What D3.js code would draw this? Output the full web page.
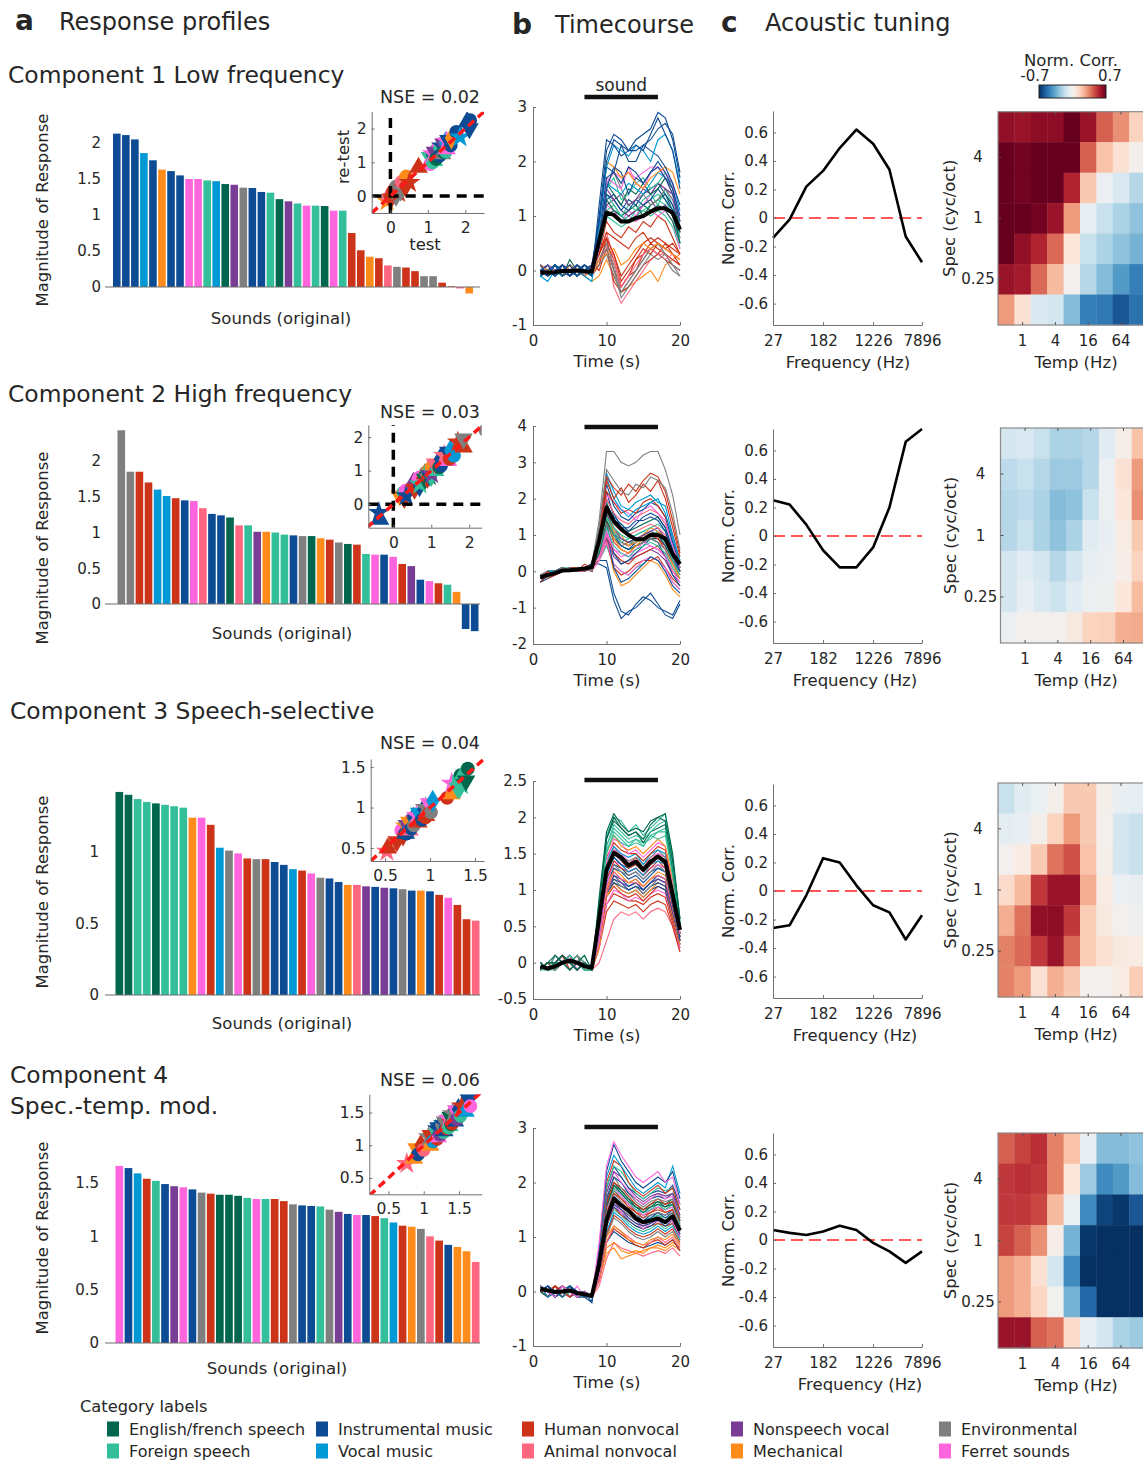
<!DOCTYPE html>
<html>
<head>
<meta charset="utf-8">
<script src="https://cdn.jsdelivr.net/npm/d3@7"></script>
<style>
html, body { margin: 0; padding: 0; background: #fff; }
svg { display: block; font-family: "DejaVu Sans", sans-serif; }
</style>
</head>
<body>
<svg id="fig" width="1143" height="1461"></svg>
<script>
// ---------- categories ----------
const categoryKeys = ["eng", "for", "ins", "voc", "hum", "ani", "nsv", "mec", "env", "fer"];
const categoryNames = ["English/french speech", "Foreign speech", "Instrumental music", "Vocal music",
  "Human nonvocal", "Animal nonvocal", "Nonspeech vocal", "Mechanical", "Environmental", "Ferret sounds"];
const categoryColors = ["#00664d", "#33bf99", "#0d4c94", "#0099d6", "#cc3319", "#ff6680", "#7a3d96", "#ff8c1a", "#7f7f7f", "#ff66dd"];

// ---------- response profiles (sorted bars) ----------
const comp1Values = [2.13, 2.11, 2.05, 1.86, 1.76, 1.63, 1.61, 1.55, 1.50, 1.50, 1.48, 1.47, 1.43, 1.42, 1.38, 1.375, 1.32, 1.31, 1.22, 1.19,
  1.16, 1.13, 1.13, 1.125, 1.06, 1.06, 0.75, 0.51, 0.42, 0.40, 0.30, 0.28, 0.27, 0.22, 0.15, 0.15, 0.06, 0.01, -0.02, -0.09];
const comp1Cats = ["ins", "ins", "ins", "voc", "ins", "mec", "ins", "ins", "fer", "fer", "for", "voc", "eng", "nsv", "env", "ins", "ins", "for", "eng", "nsv",
  "for", "fer", "for", "eng", "fer", "for", "hum", "hum", "mec", "hum", "ani", "env", "hum", "hum", "env", "env", "hum", "hum", "ani", "mec"];

const comp2Values = [2.43, 1.85, 1.85, 1.70, 1.60, 1.51, 1.48, 1.45, 1.44, 1.34, 1.26, 1.24, 1.21, 1.10, 1.10, 1.01, 1.01, 1.00, 0.97, 0.96,
  0.95, 0.95, 0.92, 0.90, 0.86, 0.84, 0.83, 0.70, 0.69, 0.69, 0.66, 0.56, 0.53, 0.34, 0.32, 0.29, 0.27, 0.17, -0.35, -0.38];
const comp2Cats = ["env", "env", "hum", "hum", "voc", "voc", "hum", "ins", "fer", "ani", "ins", "ins", "eng", "ani", "for", "nsv", "mec", "for", "for", "ins",
  "env", "eng", "mec", "hum", "env", "eng", "hum", "for", "fer", "ins", "fer", "hum", "nsv", "ins", "fer", "hum", "for", "mec", "ins", "ins"];

const comp3Values = [1.42, 1.40, 1.37, 1.35, 1.34, 1.33, 1.32, 1.31, 1.24, 1.24, 1.19, 1.03, 1.01, 0.99, 0.955, 0.95, 0.95, 0.93, 0.91, 0.88,
  0.87, 0.85, 0.82, 0.815, 0.79, 0.77, 0.77, 0.76, 0.756, 0.75, 0.746, 0.74, 0.73, 0.73, 0.725, 0.70, 0.68, 0.63, 0.53, 0.52];
const comp3Cats = ["eng", "eng", "for", "for", "eng", "for", "for", "for", "mec", "fer", "hum", "voc", "env", "fer", "hum", "env", "hum", "ins", "ins", "voc",
  "hum", "fer", "env", "ins", "ins", "mec", "ani", "nsv", "ins", "nsv", "ins", "env", "ins", "mec", "ins", "hum", "fer", "hum", "hum", "ani"];

const comp4Values = [1.66, 1.64, 1.59, 1.54, 1.52, 1.49, 1.47, 1.46, 1.44, 1.41, 1.40, 1.39, 1.39, 1.38, 1.36, 1.35, 1.35, 1.35, 1.33, 1.30,
  1.29, 1.285, 1.28, 1.25, 1.23, 1.21, 1.20, 1.20, 1.19, 1.17, 1.13, 1.10, 1.09, 1.07, 1.00, 0.96, 0.92, 0.90, 0.86, 0.76];
const comp4Cats = ["fer", "ins", "voc", "hum", "for", "ins", "nsv", "fer", "ins", "env", "hum", "eng", "eng", "eng", "for", "fer", "for", "hum", "hum", "env",
  "ins", "ins", "for", "env", "nsv", "ins", "fer", "ins", "hum", "for", "voc", "hum", "mec", "env", "ani", "hum", "ins", "mec", "mec", "ani"];

// ---------- test / re-test scatter (re-test values per sound) ----------
const comp1Retest = [2.25, 2.0, 2.2, 1.75, 1.9, 1.72, 1.5, 1.65, 1.4, 1.62, 1.32, 1.58, 1.3, 1.55, 1.25, 1.48, 1.2, 1.42, 1.1, 1.3,
  1.05, 1.25, 1.0, 1.22, 0.95, 1.15, 0.85, 0.4, 0.58, 0.3, 0.42, 0.15, 0.35, 0.1, 0.28, 0.02, 0.12, -0.08, 0.05, -0.15];
const comp2Retest = [2.2, 1.95, 1.7, 1.85, 1.45, 1.6, 1.35, 1.55, 1.3, 1.45, 1.15, 1.35, 1.1, 1.2, 1.0, 0.9, 1.1, 0.85, 1.05, 0.85,
  1.05, 0.85, 1.0, 0.8, 0.95, 0.75, 0.9, 0.6, 0.8, 0.55, 0.75, 0.45, 0.65, 0.25, 0.4, 0.2, 0.35, 0.25, -0.45, -0.25];
const comp3Retest = [1.48, 1.33, 1.42, 1.28, 1.4, 1.25, 1.36, 1.24, 1.17, 1.3, 1.12, 1.08, 0.94, 1.05, 0.9, 1.0, 0.88, 0.98, 0.85, 0.93,
  0.82, 0.9, 0.78, 0.87, 0.74, 0.82, 0.72, 0.8, 0.7, 0.79, 0.68, 0.78, 0.68, 0.77, 0.68, 0.66, 0.72, 0.58, 0.5, 0.46];
const comp4Retest = [1.6, 1.7, 1.52, 1.6, 1.45, 1.55, 1.4, 1.53, 1.37, 1.48, 1.33, 1.45, 1.32, 1.43, 1.3, 1.41, 1.27, 1.4, 1.26, 1.36,
  1.22, 1.33, 1.2, 1.31, 1.16, 1.27, 1.13, 1.25, 1.1, 1.23, 1.06, 1.15, 1.0, 1.13, 0.93, 1.0, 0.86, 0.95, 0.8, 0.72];
const nseLabels = ["NSE = 0.02", "NSE = 0.03", "NSE = 0.04", "NSE = 0.06"];

// ---------- timecourses (one row per sound, seconds 1..20) ----------
const timePoints = [1, 2, 3, 4, 5, 6, 7, 8, 9, 10, 11, 12, 13, 14, 15, 16, 17, 18, 19, 20];
const soundOnOff = [7, 17];

const comp1Time = [
  [0,-.1,.1,-.1,0,.1,0,-.1, 1.2,2.4,2.3,2.1,2.2,2.4,2.5,2.6,2.9,2.8,2.4,1.7],
  [-.1,0,-.1,.1,-.1,0,.1,0, 1.0,2.2,2.5,2.4,2.2,2.3,2.2,2.5,2.8,2.5,2.2,1.5],
  [.1,-.1,0,0,.1,-.1,0,.1, 0.9,2.0,2.4,2.3,2.2,2.2,2.3,2.4,2.6,2.7,2.5,1.8],
  [-.1,-.2,0,-.1,0,0,-.1,-.2, 0.8,1.9,2.3,2.2,2.1,2.3,2.2,2.0,2.4,2.5,2.2,1.6],
  [0,.1,-.1,0,-.1,.1,0,-.1, 0.9,1.9,1.8,2.3,2.0,2.0,2.3,2.2,2.1,1.9,1.6,1.2],
  [.1,0,0,-.1,.1,0,-.1,0, 0.8,2.0,1.9,1.7,1.8,1.6,1.5,1.7,1.8,1.9,1.8,1.4],
  [-.1,0,.1,0,-.1,0,0,.1, 0.7,1.7,1.8,1.6,1.9,1.8,1.6,1.8,2.0,1.8,1.5,1.0],
  [0,-.1,0,.1,0,-.1,.1,0, 0.6,1.5,1.9,1.8,1.4,1.7,1.6,1.8,1.9,1.7,1.4,0.9],
  [0,.1,0,0,.1,0,-.1,.1, 0.7,1.6,1.8,1.7,1.8,1.7,1.8,1.9,1.9,1.8,1.6,0.9],
  [.1,0,-.1,.1,0,.1,0,0, 0.6,1.7,1.6,1.5,1.9,1.6,1.5,1.8,1.9,1.7,1.4,0.9],
  [-.1,0,0,.1,-.1,0,.1,-.1, 0.6,1.5,1.7,1.3,1.4,1.6,1.7,1.5,1.6,1.8,1.6,0.8],
  [0,-.1,.1,0,0,-.1,0,.1, 0.7,1.6,1.5,1.4,1.6,1.5,1.4,1.6,1.8,1.7,1.6,1.1],
  [.1,0,0,-.1,.2,0,0,-.1, 0.6,1.6,1.4,1.2,1.5,1.4,1.6,1.4,1.5,1.7,1.5,0.7],
  [0,0,-.1,.1,0,0,.1,-.1, 0.5,1.5,1.3,1.4,1.2,1.3,1.5,1.4,1.6,1.5,1.4,0.8],
  [0,-.1,0,0,-.1,.1,0,0, 0.6,1.6,1.8,1.5,1.2,1.3,1.4,1.2,1.3,1.5,1.3,0.9],
  [-.1,0,.1,0,.1,0,-.1,.1, 0.5,1.4,1.3,1.1,1.3,1.2,1.4,1.5,1.6,1.4,1.2,0.8],
  [0,.1,0,-.1,0,.1,0,0, 0.5,1.3,1.4,1.2,1.1,1.3,1.2,1.3,1.5,1.3,1.1,0.7],
  [.1,-.1,0,.1,0,-.1,0,-.1, 0.5,1.4,1.2,1.0,1.2,1.1,1.3,1.4,1.2,1.5,1.2,0.6],
  [0,0,.1,-.1,0,0,.1,0, 0.5,1.3,1.1,1.0,1.1,1.2,1.0,1.2,1.3,1.4,1.1,0.5],
  [-.1,0,0,.1,0,-.1,0,.1, 0.4,1.2,1.3,1.1,1.0,1.1,1.2,1.3,1.1,1.2,1.0,0.6],
  [0,.1,-.1,0,.1,0,0,-.1, 0.5,1.1,1.2,1.0,0.9,1.1,1.2,1.3,1.4,1.3,1.0,0.5],
  [.1,0,0,.1,-.1,0,.1,0, 0.4,1.2,1.1,0.9,1.1,1.0,1.2,1.4,1.6,1.5,1.3,0.7],
  [0,-.1,.1,0,0,.1,-.1,0, 0.4,1.1,1.0,0.9,1.0,1.1,1.1,1.2,1.3,1.2,1.0,0.5],
  [-.1,0,0,0,.1,0,0,.1, 0.4,1.0,1.1,1.0,0.9,1.0,1.2,1.1,1.2,1.1,0.9,0.5],
  [0,.1,0,-.1,0,0,.1,-.1, 0.4,1.1,1.0,0.9,1.0,0.9,1.0,1.1,1.0,1.1,0.9,0.4],
  [.1,0,-.1,0,0,.1,0,0, 0.4,1.0,0.9,0.8,0.9,1.0,1.1,1.0,1.1,1.0,0.8,0.4],
  [0,-.1,0,.1,0,0,-.1,.1, 0.3,0.9,0.7,0.6,0.8,0.7,0.9,0.8,1.0,0.9,0.6,0.3],
  [-.1,0,.1,0,-.1,.1,0,0, 0.3,0.7,0.6,0.5,0.4,0.6,0.7,0.5,0.6,0.5,0.4,0.3],
  [0,.1,0,0,.1,-.1,0,-.1, 0.2,0.3,0.4,0.1,0.2,0.4,0.5,0.4,0.5,0.4,0.3,0.2],
  [.1,0,-.1,.1,0,0,.1,0, 0.3,0.6,0.3,-0.1,0.1,0.3,0.5,0.6,0.5,0.4,0.5,0.3],
  [0,-.1,0,0,-.1,.1,0,0, 0.3,0.7,0.2,-0.3,-0.1,0.1,0.3,0.4,0.3,0.2,0.3,0.2],
  [-.1,0,.1,-.1,0,0,.1,0, 0.2,0.5,0.1,-0.4,-0.2,0.0,0.2,0.4,0.5,0.3,0.1,0.0],
  [0,0,0,.1,0,-.1,0,.1, 0.3,0.6,0.3,-0.2,0.0,0.2,0.3,0.5,0.4,0.3,0.2,0.1],
  [.1,-.1,0,0,0,.1,-.1,0, 0.2,0.5,0.2,-0.3,-0.1,0.2,0.4,0.3,0.5,0.4,0.3,0.1],
  [0,0,-.1,0,.1,0,0,-.1, 0.2,0.4,0.0,-0.5,-0.3,-0.1,0.1,0.3,0.2,0.3,0.1,-0.1],
  [-.1,.1,0,0,-.1,0,.1,0, 0.1,0.3,-0.1,-0.4,-0.2,0.0,0.2,0.4,0.3,0.2,0.0,-0.1],
  [0,0,.1,-.1,0,.1,0,-.1, 0.1,0.6,0.0,-0.3,-0.1,0.0,0.3,0.4,0.3,0.5,0.3,0.2],
  [.1,0,0,0,-.1,0,0,.1, 0.0,0.4,-0.2,-0.4,-0.3,-0.1,0.1,0.2,0.3,0.2,0.1,0.0],
  [0,-.1,.1,0,0,-.1,0,0, 0.1,0.5,-0.3,-0.6,-0.4,-0.2,0.0,0.2,0.3,0.3,0.2,0.1],
  [-.1,0,0,.1,0,0,-.1,-.2, -0.1,0.2,-0.1,-0.4,-0.3,-0.2,-0.1,0.0,-0.2,0.1,0.2,0.3]
];
const comp1Mean = [-0.03,-0.04,-0.03,-0.01,-0.01,0,-0.02,-0.02, 0.55,1.06,1.02,0.9,0.9,0.96,1.0,1.08,1.14,1.14,1.06,0.75];

const comp2Time = [
  [-.2,-.1,0,.1,0,.1,0,.2, 1.4,3.3,3.3,3.0,2.9,3.0,3.2,3.3,3.3,2.8,2.1,1.0],
  [-.1,-.2,0,0,.1,0,.1,0, 1.2,2.8,2.5,2.2,2.1,2.4,2.3,2.6,2.5,2.3,1.6,0.6],
  [-.3,-.1,-.1,0,.1,.1,0,.1, 1.1,2.6,2.3,2.1,2.4,2.2,2.5,2.7,2.6,2.2,1.4,0.5],
  [-.2,0,-.1,.1,0,0,.2,.1, 1.0,2.5,2.0,2.3,1.9,2.1,2.4,2.2,2.5,2.0,1.2,0.4],
  [-.1,-.1,0,0,.1,0,.1,.2, 1.2,2.7,2.2,1.8,1.7,1.9,2.0,2.1,1.9,1.8,1.0,0.3],
  [-.2,0,0,.1,0,.1,0,.1, 1.1,2.6,2.0,1.7,1.5,1.7,1.8,1.9,2.0,1.6,0.9,0.3],
  [-.1,-.2,-.1,0,0,.1,.1,0, 0.9,2.2,1.9,1.6,1.7,1.6,1.9,2.0,1.8,1.5,1.0,0.2],
  [-.3,-.1,0,0,.1,0,.1,.2, 1.0,2.4,1.8,1.5,1.4,1.6,1.7,1.9,1.8,1.5,0.8,0.2],
  [-.2,-.1,-.1,.1,0,0,.1,.1, 0.9,2.1,1.9,1.7,1.6,1.4,1.7,1.8,1.6,1.4,0.7,0.1],
  [-.1,0,-.1,0,.1,0,0,.1, 0.8,2.0,1.6,1.4,1.3,1.5,1.6,1.7,1.6,1.3,0.8,0.2],
  [-.2,-.1,0,.1,0,.1,.1,0, 0.9,2.2,1.5,1.3,1.1,1.3,1.5,1.6,1.5,1.2,0.6,0.1],
  [-.2,0,0,0,.1,0,.1,.1, 0.8,2.0,1.6,1.2,1.2,1.4,1.4,1.5,1.4,1.1,0.5,0.0],
  [-.1,-.1,0,.1,0,.1,0,.2, 0.8,1.9,1.4,1.3,1.1,1.2,1.3,1.4,1.5,1.2,0.6,0.1],
  [-.2,-.1,-.1,0,0,.1,.1,.1, 0.7,1.8,1.3,1.1,1.0,1.1,1.2,1.3,1.2,1.0,0.5,0.1],
  [-.1,0,0,.1,.1,0,0,.1, 0.8,1.7,1.2,1.0,0.9,1.0,1.1,1.2,1.3,1.1,0.6,0.2],
  [-.2,-.1,0,0,0,.1,.1,0, 0.7,1.6,1.2,0.9,0.8,0.9,1.0,1.1,1.2,0.9,0.4,0.0],
  [-.1,-.1,-.1,.1,0,0,.1,.1, 0.7,1.7,1.1,1.0,0.7,0.8,1.0,1.2,1.1,0.9,0.5,0.1],
  [-.2,0,0,0,.1,.1,0,.1, 0.6,1.5,1.0,0.8,0.9,1.0,1.1,1.0,1.1,0.8,0.4,0.0],
  [-.1,-.1,0,.1,0,0,.1,.2, 0.7,1.6,1.1,0.9,0.8,0.8,0.9,1.0,1.0,0.8,0.3,-0.1],
  [-.3,-.1,0,0,.1,0,.1,.1, 0.8,1.8,1.0,0.7,0.6,0.8,1.0,1.1,1.0,0.7,0.3,0.0],
  [-.2,-.1,-.1,0,0,.1,0,.1, 0.6,1.5,1.1,0.8,0.7,0.9,1.0,0.9,1.0,0.8,0.4,0.1],
  [-.1,0,0,.1,0,0,.1,0, 0.6,1.4,1.0,0.9,0.8,0.9,0.9,1.0,1.1,0.9,0.4,0.0],
  [-.2,-.1,0,0,.1,.1,.1,.1, 0.7,1.6,0.9,0.6,0.5,0.7,0.9,1.1,1.0,0.7,0.2,-0.2],
  [-.1,-.1,0,0,0,.1,0,.2, 0.6,1.4,1.0,0.8,0.7,0.8,0.9,1.0,0.9,0.7,0.3,0.0],
  [-.2,0,-.1,.1,0,0,.1,.1, 0.6,1.3,0.9,0.7,0.8,0.7,0.8,0.9,0.8,0.6,0.2,-0.1],
  [-.1,-.1,0,0,.1,0,0,.1, 0.5,1.3,0.9,0.7,0.6,0.7,0.8,0.9,0.9,0.7,0.3,0.0],
  [-.2,-.1,0,.1,0,.1,.1,0, 0.6,1.4,0.8,0.6,0.5,0.7,0.8,1.0,0.9,0.6,0.2,-0.1],
  [-.1,0,0,0,.1,0,.1,.1, 0.5,1.2,0.7,0.5,0.4,0.6,0.7,0.8,0.7,0.5,0.1,-0.2],
  [-.2,-.1,-.1,0,0,.1,0,.1, 0.5,1.1,0.6,0.4,0.5,0.6,0.8,0.7,0.6,0.4,0.0,-0.3],
  [-.3,-.1,0,.1,0,0,.1,.2, 0.7,1.3,0.5,0.2,0.3,0.5,0.7,0.9,0.8,0.4,-0.1,-0.4],
  [-.1,-.1,0,0,.1,.1,0,.1, 0.4,1.0,0.6,0.5,0.4,0.5,0.6,0.7,0.6,0.5,0.1,-0.2],
  [-.2,0,0,.1,0,0,.1,.1, 0.4,1.0,0.5,0.3,0.2,0.4,0.5,0.6,0.7,0.4,0.0,-0.2],
  [-.1,-.1,-.1,0,.1,0,0,.2, 0.5,0.9,0.4,0.2,0.3,0.4,0.5,0.6,0.5,0.3,-0.1,-0.3],
  [-.2,-.1,0,0,0,.1,.1,.1, 0.5,1.1,0.1,-0.3,-0.2,0.0,0.2,0.4,0.3,0.0,-0.4,-0.6],
  [-.1,0,0,.1,0,0,.1,0, 0.3,0.8,0.2,0.0,-0.1,0.1,0.3,0.4,0.3,0.1,-0.3,-0.5],
  [-.2,-.1,0,0,.1,.1,0,.1, 0.3,0.8,0.1,-0.1,0.0,0.2,0.3,0.3,0.4,0.1,-0.2,-0.4],
  [-.1,-.1,0,0,0,0,.1,.1, 0.3,0.7,0.2,0.0,-0.1,0.1,0.2,0.4,0.3,0.1,-0.3,-0.5],
  [-.2,0,-.1,.1,0,.1,.1,.2, 0.4,0.9,0.0,-0.4,-0.3,-0.1,0.1,0.3,0.2,-0.1,-0.5,-0.7],
  [-.3,-.2,-.1,0,.1,0,.1,.1, 0.3,0.3,-0.6,-1.1,-1.2,-0.9,-0.7,-0.8,-1.0,-1.1,-1.2,-0.8],
  [-.2,-.1,0,.1,0,.1,0,.2, 0.2,0.1,-0.8,-1.3,-1.1,-1.0,-0.8,-0.6,-0.9,-1.2,-1.3,-0.9]
];
const comp2Mean = [-0.17,-0.1,-0.05,0.02,0.03,0.05,0.08,0.12, 0.85,1.76,1.38,1.16,1.0,0.88,0.88,1.0,1.0,0.9,0.47,0.2];

const comp3Time = [
  [-.1,0,.1,0,-.1,0,.1,-.1, 0.9,1.8,2.05,1.9,1.8,1.85,1.8,1.95,2.0,2.05,1.5,0.6],
  [0,-.1,0,.1,0,-.1,0,-.1, 0.8,1.7,2.0,1.85,1.75,1.8,1.7,1.9,2.0,1.95,1.4,0.6],
  [-.1,-.1,0,0,.1,0,-.1,-.1, 0.8,1.75,2.0,1.95,1.8,1.9,1.75,1.85,1.95,2.05,1.45,0.55],
  [0,-.1,-.1,0,0,.1,0,-.1, 0.7,1.6,1.9,1.8,1.7,1.75,1.7,1.8,1.9,1.95,1.35,0.5],
  [-.1,0,0,.1,0,-.1,0,-.1, 0.8,1.7,1.95,1.85,1.75,1.8,1.65,1.8,1.85,1.9,1.3,0.5],
  [0,-.1,0,0,-.1,0,.1,-.1, 0.7,1.6,1.85,1.75,1.65,1.7,1.6,1.75,1.8,1.85,1.3,0.55],
  [-.1,0,0,0,.1,0,-.1,-.1, 0.7,1.5,1.8,1.7,1.6,1.7,1.65,1.7,1.8,1.8,1.25,0.5],
  [0,-.1,.1,0,0,-.1,0,-.1, 0.6,1.55,1.75,1.65,1.6,1.65,1.6,1.75,1.7,1.75,1.2,0.45],
  [-.1,0,0,.1,0,0,-.1,-.1, 0.7,1.5,1.75,1.6,1.55,1.6,1.5,1.6,1.7,1.6,1.15,0.5],
  [0,-.1,0,0,.1,-.1,0,-.1, 0.5,1.4,1.7,1.65,1.5,1.55,1.45,1.55,1.65,1.6,1.1,0.45],
  [-.1,0,-.1,0,0,.1,0,-.1, 0.6,1.45,1.65,1.55,1.5,1.5,1.4,1.5,1.6,1.55,1.05,0.45],
  [0,-.1,0,.1,0,0,-.1,-.1, 0.6,1.4,1.6,1.5,1.45,1.5,1.35,1.5,1.55,1.5,1.05,0.45],
  [-.1,0,0,0,.1,0,0,-.1, 0.6,1.35,1.6,1.45,1.4,1.45,1.35,1.45,1.55,1.45,1.0,0.45],
  [0,-.1,.1,0,0,-.1,0,-.1, 0.4,1.2,1.55,1.5,1.4,1.4,1.3,1.45,1.5,1.45,1.0,0.4],
  [-.1,0,0,.1,-.1,0,0,-.1, 0.5,1.3,1.55,1.45,1.35,1.45,1.3,1.4,1.5,1.45,0.95,0.4],
  [0,-.1,0,0,0,.1,-.1,-.1, 0.5,1.3,1.5,1.4,1.35,1.4,1.3,1.4,1.45,1.4,0.95,0.4],
  [-.1,0,-.1,0,.1,0,0,-.1, 0.5,1.25,1.5,1.4,1.3,1.35,1.25,1.35,1.45,1.35,0.9,0.4],
  [0,-.1,0,.1,0,0,-.1,-.1, 0.5,1.3,1.5,1.4,1.3,1.4,1.3,1.4,1.45,1.4,0.95,0.4],
  [-.1,0,0,0,0,-.1,0,-.1, 0.5,1.25,1.45,1.35,1.3,1.35,1.25,1.35,1.45,1.35,0.9,0.35],
  [0,-.1,.1,0,-.1,0,0,-.1, 0.4,1.2,1.45,1.35,1.25,1.3,1.2,1.35,1.4,1.35,0.9,0.4],
  [-.1,0,0,.1,0,0,-.1,-.1, 0.4,1.15,1.4,1.3,1.25,1.3,1.2,1.3,1.4,1.3,0.85,0.35],
  [0,-.1,0,0,.1,-.1,0,-.1, 0.3,1.05,1.4,1.35,1.25,1.3,1.2,1.3,1.35,1.3,0.85,0.35],
  [-.1,0,-.1,0,0,.1,0,-.1, 0.4,1.15,1.35,1.25,1.2,1.25,1.15,1.25,1.35,1.25,0.85,0.35],
  [0,-.1,0,.1,0,0,-.1,-.1, 0.4,1.15,1.35,1.3,1.2,1.25,1.15,1.25,1.3,1.25,0.8,0.35],
  [-.1,0,0,0,.1,0,0,-.1, 0.4,1.1,1.3,1.25,1.15,1.2,1.1,1.2,1.3,1.25,0.8,0.3],
  [0,-.1,.1,0,0,-.1,0,-.1, 0.3,1.0,1.3,1.2,1.1,1.15,1.05,1.15,1.25,1.2,0.8,0.3],
  [-.1,0,0,.1,-.1,0,0,-.1, 0.3,0.95,1.25,1.15,1.1,1.1,1.05,1.15,1.2,1.15,0.75,0.3],
  [0,-.1,0,0,0,.1,-.1,-.1, 0.4,1.05,1.25,1.15,1.1,1.15,1.05,1.15,1.2,1.15,0.75,0.3],
  [-.1,0,-.1,0,.1,0,0,-.1, 0.3,1.0,1.2,1.15,1.05,1.1,1.0,1.1,1.2,1.15,0.75,0.3],
  [0,-.1,0,.1,0,0,-.1,-.1, 0.3,0.95,1.2,1.1,1.05,1.1,1.0,1.1,1.15,1.1,0.7,0.3],
  [-.1,0,0,0,0,-.1,0,-.1, 0.3,1.0,1.15,1.1,1.0,1.05,1.0,1.1,1.15,1.1,0.7,0.3],
  [0,-.1,.1,0,-.1,0,0,-.1, 0.3,0.95,1.15,1.05,1.0,1.05,0.95,1.05,1.15,1.1,0.7,0.3],
  [-.1,0,0,.1,0,0,-.1,-.1, 0.3,0.95,1.1,1.05,1.0,1.05,0.95,1.05,1.1,1.05,0.7,0.3],
  [0,-.1,0,0,.1,-.1,0,-.1, 0.2,0.9,1.1,1.0,0.95,1.0,0.9,1.0,1.1,1.05,0.65,0.25],
  [-.1,0,-.1,0,0,.1,0,-.1, 0.3,0.95,1.1,1.0,0.95,1.0,0.9,1.0,1.05,1.0,0.65,0.25],
  [0,-.1,0,.1,0,0,-.1,-.1, 0.3,0.9,1.05,0.95,0.9,0.95,0.85,0.95,1.05,1.0,0.6,0.25],
  [-.1,0,0,0,.1,0,0,-.1, 0.2,0.8,1.0,0.95,0.85,0.9,0.85,0.95,1.0,0.95,0.6,0.2],
  [0,-.1,.1,0,0,-.1,0,-.1, 0.2,0.8,0.95,0.9,0.85,0.85,0.8,0.9,0.95,0.9,0.55,0.2],
  [-.1,0,0,.1,-.1,0,0,-.1, 0.2,0.7,0.85,0.8,0.75,0.8,0.7,0.8,0.85,0.8,0.5,0.15],
  [0,-.1,0,0,0,.1,-.1,-.1, 0.0,0.3,0.6,0.7,0.65,0.7,0.6,0.7,0.75,0.7,0.5,0.15]
];
const comp3Mean = [-0.05,-0.08,-0.05,0,0.03,0,-0.05,-0.07, 0.6,1.28,1.51,1.45,1.34,1.39,1.28,1.39,1.46,1.39,0.94,0.45];

const comp4Time = [
  [.1,0,-.1,.1,0,-.1,0,-.1, 0.9,2.3,2.75,2.5,2.3,2.1,2.0,2.1,2.2,2.0,2.1,1.6],
  [0,.1,0,-.1,.1,0,-.1,-.2, 0.8,2.2,2.7,2.4,2.2,2.0,1.9,2.0,2.1,2.0,2.2,1.7],
  [.1,-.1,0,0,0,-.1,-.1,-.1, 0.8,2.1,2.5,2.3,2.1,1.9,1.8,1.9,2.0,1.9,2.3,1.8],
  [0,0,.1,0,-.1,0,-.1,-.1, 0.7,2.0,2.4,2.3,2.0,1.85,1.75,1.85,1.95,1.8,1.9,1.5],
  [.1,0,0,-.1,0,0,-.1,-.1, 0.7,1.9,2.3,2.2,2.0,1.8,1.7,1.8,1.9,1.85,1.9,1.5],
  [0,.1,-.1,0,.1,-.1,0,-.2, 0.7,1.9,2.3,2.1,1.9,1.8,1.7,1.8,1.85,1.8,1.95,1.6],
  [.1,-.1,0,.1,0,0,-.1,-.1, 0.6,1.8,2.2,2.1,1.9,1.75,1.65,1.75,1.8,1.75,1.8,1.4],
  [0,0,0,0,-.1,.1,-.1,-.1, 0.6,1.8,2.2,2.0,1.85,1.7,1.6,1.7,1.8,1.7,1.75,1.4],
  [.1,0,-.1,0,0,-.1,0,-.1, 0.6,1.7,2.1,2.0,1.8,1.7,1.6,1.7,1.75,1.7,1.8,1.5],
  [0,.1,0,-.1,0,0,-.1,-.1, 0.6,1.7,2.1,1.9,1.8,1.65,1.55,1.65,1.7,1.65,1.7,1.35],
  [.1,-.1,.1,0,0,-.1,0,-.1, 0.5,1.6,2.0,1.9,1.75,1.6,1.5,1.6,1.7,1.6,1.65,1.3],
  [0,0,-.1,0,.1,0,-.1,-.1, 0.5,1.65,2.0,1.85,1.7,1.6,1.5,1.6,1.65,1.6,1.7,1.35],
  [.1,0,0,.1,-.1,0,0,-.1, 0.5,1.6,1.95,1.85,1.7,1.55,1.5,1.55,1.65,1.55,1.65,1.3],
  [0,-.1,0,0,0,-.1,0,-.1, 0.5,1.55,1.95,1.8,1.65,1.55,1.45,1.55,1.6,1.55,1.6,1.3],
  [.1,0,-.1,0,.1,0,-.1,-.1, 0.5,1.55,1.9,1.8,1.65,1.5,1.45,1.5,1.6,1.5,1.6,1.25],
  [0,.1,0,0,0,-.1,0,-.1, 0.5,1.5,1.9,1.75,1.6,1.5,1.4,1.5,1.55,1.5,1.55,1.25],
  [.1,0,0,-.1,0,0,-.1,-.1, 0.5,1.5,1.85,1.75,1.6,1.5,1.4,1.5,1.55,1.5,1.55,1.2],
  [0,0,.1,0,-.1,0,0,-.1, 0.4,1.45,1.85,1.7,1.6,1.45,1.4,1.45,1.55,1.45,1.5,1.2],
  [.1,-.1,0,0,0,-.1,-.1,-.1, 0.4,1.45,1.8,1.7,1.55,1.45,1.35,1.45,1.5,1.45,1.5,1.2],
  [0,0,0,.1,0,0,-.1,-.1, 0.4,1.4,1.8,1.65,1.5,1.4,1.35,1.4,1.45,1.4,1.45,1.15],
  [.1,0,-.1,0,.1,-.1,0,-.1, 0.5,1.45,1.75,1.6,1.5,1.4,1.3,1.4,1.45,1.4,1.5,1.2],
  [0,.1,0,0,-.1,0,-.1,-.1, 0.4,1.4,1.75,1.6,1.45,1.35,1.3,1.35,1.45,1.35,1.45,1.15],
  [.1,0,0,-.1,0,0,0,-.1, 0.4,1.35,1.7,1.6,1.45,1.35,1.3,1.35,1.4,1.35,1.4,1.1],
  [0,-.1,.1,0,0,-.1,-.1,-.1, 0.4,1.35,1.7,1.55,1.4,1.3,1.25,1.3,1.4,1.3,1.4,1.1],
  [.1,0,0,0,.1,0,-.1,-.1, 0.4,1.3,1.65,1.5,1.4,1.3,1.2,1.3,1.35,1.3,1.35,1.05],
  [0,0,-.1,.1,0,0,0,-.1, 0.4,1.3,1.6,1.5,1.35,1.25,1.2,1.25,1.35,1.25,1.35,1.05],
  [.1,-.1,0,0,0,-.1,0,-.1, 0.3,1.2,1.6,1.45,1.35,1.25,1.15,1.25,1.3,1.25,1.3,1.0],
  [0,0,0,0,-.1,0,-.1,-.1, 0.4,1.25,1.55,1.45,1.3,1.2,1.15,1.2,1.3,1.2,1.3,1.0],
  [.1,0,.1,-.1,0,0,-.1,-.1, 0.3,1.2,1.55,1.4,1.3,1.2,1.15,1.2,1.25,1.2,1.25,1.0],
  [0,.1,-.1,0,.1,-.1,0,-.1, 0.3,1.2,1.5,1.4,1.25,1.15,1.1,1.15,1.25,1.15,1.25,0.95],
  [.1,0,0,0,0,0,-.1,-.1, 0.3,1.1,1.45,1.35,1.2,1.1,1.05,1.1,1.2,1.1,1.2,0.95],
  [0,-.1,0,.1,0,-.1,0,-.1, 0.3,1.05,1.4,1.3,1.15,1.05,1.0,1.05,1.15,1.05,1.15,0.9],
  [.1,0,-.1,0,0,0,-.1,-.1, 0.3,1.0,1.2,1.1,0.95,0.9,0.85,0.95,1.0,0.95,1.05,0.85],
  [0,0,0,0,.1,-.1,0,-.1, 0.3,1.0,1.35,1.25,1.1,1.0,0.95,1.0,1.1,1.0,1.1,0.85],
  [.1,0,0,-.1,0,0,-.1,-.1, 0.2,0.9,1.2,1.1,1.0,0.9,0.85,0.9,1.0,0.9,1.0,0.8],
  [0,.1,0,0,-.1,0,0,-.1, 0.2,0.9,1.15,1.05,0.95,0.85,0.8,0.9,0.95,0.85,0.95,0.75],
  [.1,0,-.1,0,0,-.1,-.1,-.1, 0.3,0.9,1.1,1.0,0.9,0.85,0.8,0.85,0.9,0.85,0.95,0.75],
  [0,0,0,.1,0,0,-.1,-.1, 0.2,0.8,0.9,0.75,0.7,0.75,0.7,0.8,0.85,0.8,0.9,0.8],
  [.1,-.1,0,0,0,-.1,0,-.1, 0.2,0.7,0.8,0.6,0.65,0.7,0.75,0.8,0.8,0.75,0.85,0.75],
  [0,0,.1,0,0,0,-.1,-.1, 0.1,0.6,0.9,0.8,0.75,0.7,0.65,0.7,0.75,0.7,0.8,0.65]
];
const comp4Mean = [0.05,0.02,-0.01,0,0.02,-0.03,-0.05,-0.08, 0.5,1.3,1.7,1.58,1.49,1.34,1.27,1.3,1.34,1.27,1.38,1.12];

// ---------- acoustic tuning ----------
const tuneFreqs = [27, 51, 96, 182, 343, 647, 1226, 2281, 4243, 7896];
const freqTicks = [27, 182, 1226, 7896];
const comp1Tuning = [-0.14, -0.01, 0.22, 0.33, 0.49, 0.62, 0.52, 0.34, -0.13, -0.31];
const comp2Tuning = [0.25, 0.22, 0.08, -0.10, -0.22, -0.22, -0.08, 0.20, 0.66, 0.76];
const comp3Tuning = [-0.26, -0.24, -0.03, 0.23, 0.20, 0.04, -0.10, -0.15, -0.34, -0.17];
const comp4Tuning = [0.07, 0.05, 0.035, 0.06, 0.10, 0.07, -0.02, -0.08, -0.16, -0.08];
const corrTicks = [-0.6, -0.4, -0.2, 0, 0.2, 0.4, 0.6];

// spectrotemporal modulation maps: rows = spectral scale (top→bottom), cols = temporal rate
const specScales = [8, 4, 2, 1, 0.5, 0.25, 0.125];
const tempRates = [0.5, 1, 2, 4, 8, 16, 32, 64, 128];
const specTicks = [4, 1, 0.25];
const tempTicks = [1, 4, 16, 64];
const comp1Map = [
  [0.62, 0.60, 0.63, 0.63, 0.70, 0.60, 0.42, 0.32, 0.15],
  [0.70, 0.68, 0.70, 0.70, 0.70, 0.42, 0.20, 0.10, 0.02],
  [0.70, 0.68, 0.70, 0.70, 0.55, 0.18, -0.03, -0.10, -0.20],
  [0.70, 0.70, 0.68, 0.60, 0.30, -0.05, -0.15, -0.22, -0.28],
  [0.70, 0.62, 0.55, 0.40, 0.08, -0.15, -0.22, -0.28, -0.33],
  [0.60, 0.58, 0.40, 0.22, 0.00, -0.20, -0.30, -0.40, -0.48],
  [0.30, 0.10, -0.10, -0.12, -0.30, -0.48, -0.50, -0.60, -0.52]
];
const comp2Map = [
  [-0.12, -0.10, -0.15, -0.22, -0.22, -0.20, -0.08, 0.02, 0.20],
  [-0.18, -0.15, -0.20, -0.25, -0.25, -0.20, -0.03, 0.10, 0.30],
  [-0.20, -0.18, -0.22, -0.30, -0.28, -0.15, -0.03, 0.08, 0.32],
  [-0.20, -0.15, -0.22, -0.28, -0.22, -0.08, -0.05, 0.05, 0.18],
  [-0.12, -0.08, -0.12, -0.20, -0.12, -0.05, -0.03, 0.03, 0.15],
  [-0.12, -0.05, -0.10, -0.14, -0.08, -0.03, -0.02, 0.08, 0.22],
  [-0.03, 0.01, 0.01, 0.01, 0.06, 0.15, 0.16, 0.25, 0.26]
];
const comp3Map = [
  [-0.15, -0.08, -0.04, 0.02, 0.18, 0.18, 0.02, -0.05, -0.06],
  [-0.07, -0.05, 0.02, 0.15, 0.30, 0.18, 0.01, -0.12, -0.15],
  [0.00, 0.05, 0.18, 0.38, 0.45, 0.20, 0.02, -0.12, -0.15],
  [0.12, 0.22, 0.50, 0.60, 0.60, 0.25, 0.05, -0.03, -0.05],
  [0.25, 0.38, 0.62, 0.63, 0.50, 0.17, 0.06, 0.01, -0.02],
  [0.35, 0.40, 0.50, 0.60, 0.40, 0.17, 0.10, 0.06, 0.05],
  [0.35, 0.30, 0.10, 0.25, 0.18, 0.01, 0.00, 0.05, 0.17]
];
const comp4Map = [
  [0.42, 0.48, 0.52, 0.35, 0.20, -0.05, -0.30, -0.30, -0.28],
  [0.50, 0.52, 0.50, 0.35, 0.08, -0.25, -0.45, -0.40, -0.30],
  [0.50, 0.50, 0.47, 0.22, -0.04, -0.45, -0.65, -0.68, -0.60],
  [0.48, 0.42, 0.32, 0.03, -0.33, -0.68, -0.75, -0.75, -0.72],
  [0.30, 0.25, 0.10, -0.12, -0.45, -0.70, -0.75, -0.75, -0.75],
  [0.30, 0.25, 0.14, -0.01, -0.33, -0.55, -0.73, -0.75, -0.70],
  [0.60, 0.60, 0.42, 0.38, 0.12, -0.05, -0.12, -0.22, -0.25]
];
const corrLimit = 0.7;

// ---------- layout ----------
const rows = [
  { title: ["Component 1 Low frequency"], titleX: 8, titleY: [75],
    bars: { x: [113, 473], base: [105, 480], axisX: 104, yDom: [0, 2], yRng: [287, 143], ticks: [0, 0.5, 1, 1.5, 2], labelY: 210, xLabel: [281, 318] },
    inset: { xDom: [-0.5, 2.5], xRng: [371.7, 484], yDom: [-0.5, 2.5], yRng: [213, 111.7], ticks: [0, 1, 2], nse: [430, 97], axisTitles: true },
    time: { yDom: [-1, 3], yRng: [325, 107], ticks: [-1, 0, 1, 2, 3], barY: 97, soundLabel: 85 },
    tune: { zero: 218, xLabelX: 848 },
    heat: { x0: 998, y: [111.7, 325] } },
  { title: ["Component 2 High frequency"], titleX: 8, titleY: [394],
    bars: { x: [117.5, 478.5], base: [105, 480], axisX: 104, yDom: [0, 2], yRng: [604, 461], ticks: [0, 0.5, 1, 1.5, 2], labelY: 548, xLabel: [282, 633] },
    inset: { xDom: [-0.66, 2.33], xRng: [368.3, 481.7], yDom: [-0.7, 2.36], yRng: [527.7, 425], ticks: [0, 1, 2], nse: [430, 412], axisTitles: false },
    time: { yDom: [-2, 4], yRng: [644, 426], ticks: [-2, -1, 0, 1, 2, 3, 4], barY: 427 },
    tune: { zero: 536, xLabelX: 855 },
    heat: { x0: 1000.5, y: [428, 643] } },
  { title: ["Component 3 Speech-selective"], titleX: 10, titleY: [711],
    bars: { x: [115.5, 479.5], base: [105, 480], axisX: 102, yDom: [0, 1], yRng: [995, 852], ticks: [0, 0.5, 1], labelY: 892, xLabel: [282, 1023] },
    inset: { xDom: [0.34, 1.6], xRng: [370.7, 484], yDom: [0.34, 1.6], yRng: [861, 759], ticks: [0.5, 1, 1.5], nse: [430, 743], axisTitles: false },
    time: { yDom: [-0.5, 2.5], yRng: [999, 781], ticks: [-0.5, 0, 0.5, 1, 1.5, 2, 2.5], barY: 780 },
    tune: { zero: 891, xLabelX: 855 },
    heat: { x0: 998, y: [783, 997] } },
  { title: ["Component 4", "Spec.-temp. mod."], titleX: 10, titleY: [1075, 1106],
    bars: { x: [115.5, 479.5], base: [105, 480], axisX: 102, yDom: [0, 1.5], yRng: [1343, 1183], ticks: [0, 0.5, 1, 1.5], labelY: 1238, xLabel: [277, 1368] },
    inset: { xDom: [0.23, 1.82], xRng: [369.3, 481.7], yDom: [0.25, 1.78], yRng: [1194.3, 1094.3], ticks: [0.5, 1, 1.5], nse: [430, 1080], axisTitles: false },
    time: { yDom: [-1, 3], yRng: [1346, 1128], ticks: [-1, 0, 1, 2, 3], barY: 1127 },
    tune: { zero: 1240, xLabelX: 860 },
    heat: { x0: 998, y: [1133, 1348] } }
];

const components = [
  { values: comp1Values, cats: comp1Cats, retest: comp1Retest, time: comp1Time, mean: comp1Mean, tuning: comp1Tuning, map: comp1Map, nse: nseLabels[0] },
  { values: comp2Values, cats: comp2Cats, retest: comp2Retest, time: comp2Time, mean: comp2Mean, tuning: comp2Tuning, map: comp2Map, nse: nseLabels[1] },
  { values: comp3Values, cats: comp3Cats, retest: comp3Retest, time: comp3Time, mean: comp3Mean, tuning: comp3Tuning, map: comp3Map, nse: nseLabels[2] },
  { values: comp4Values, cats: comp4Cats, retest: comp4Retest, time: comp4Time, mean: comp4Mean, tuning: comp4Tuning, map: comp4Map, nse: nseLabels[3] }
];

// ---------- drawing ----------
const svg = d3.select("#fig");
const TXT = "#262626";
const AX = "#6f6f6f";
const TICK = 15;      // tick label size
const LAB = 16.5;     // axis title size
const colorOf = d3.scaleOrdinal(categoryKeys, categoryColors);
const corrColor = d3.scaleSequential(t => d3.interpolateRdBu(1 - t)).domain([-corrLimit, corrLimit]);
const fmt = d => String(d);

function label(g, x, y, s, o = {}) {
  const t = g.append("text").attr("x", x).attr("y", y).text(s)
    .attr("font-size", o.size || LAB).attr("fill", o.fill || TXT)
    .attr("text-anchor", o.anchor || "middle").attr("dominant-baseline", "central");
  if (o.weight) t.attr("font-weight", o.weight);
  if (o.rotate) t.attr("transform", `rotate(-90,${x},${y})`);
  return t;
}

function styleAxis(ax, size = TICK) {
  ax.selectAll("text").attr("font-size", size).attr("fill", TXT).attr("font-family", "DejaVu Sans, sans-serif");
  ax.selectAll("line").attr("stroke", AX);
  ax.select(".domain").attr("stroke", AX);
}

// panel headers
label(svg, 15, 20, "a", { size: 28, weight: "bold", anchor: "start" });
label(svg, 59, 22, "Response profiles", { size: 24, anchor: "start" });
label(svg, 512, 24, "b", { size: 28, weight: "bold", anchor: "start" });
label(svg, 555, 25, "Timecourse", { size: 24, anchor: "start" });
label(svg, 721, 22, "c", { size: 28, weight: "bold", anchor: "start" });
label(svg, 765, 23, "Acoustic tuning", { size: 24, anchor: "start" });

function drawBars(L, c) {
  const g = svg.append("g");
  const x = d3.scaleBand(d3.range(c.values.length), L.x).paddingInner(0.16);
  const y = d3.scaleLinear(L.yDom, L.yRng);
  g.selectAll("rect").data(c.values).join("rect")
    .attr("x", (d, i) => x(i)).attr("width", x.bandwidth())
    .attr("y", d => y(Math.max(0, d))).attr("height", d => Math.abs(y(d) - y(0)))
    .attr("fill", (d, i) => colorOf(c.cats[i]));
  g.append("line").attr("x1", L.base[0]).attr("x2", L.base[1]).attr("y1", y(0)).attr("y2", y(0))
    .attr("stroke", AX).attr("stroke-width", 1.2);
  const ax = g.append("g").attr("transform", `translate(${L.axisX},0)`)
    .call(d3.axisLeft(y).tickValues(L.ticks).tickSize(0).tickPadding(3).tickFormat(fmt));
  ax.select(".domain").remove();
  styleAxis(ax);
  label(g, 42, L.labelY, "Magnitude of Response", { rotate: true });
  label(g, L.xLabel[0], L.xLabel[1], "Sounds (original)");
}

const markerShapes = [d3.symbolCircle, d3.symbolTriangle, d3.symbolTriangle, d3.symbolStar, d3.symbolCircle, d3.symbolDiamond];
const markerFlip = [false, true, false, false, false, false];
let clipCount = 0;

function drawInset(L, c) {
  const g = svg.append("g");
  const x = d3.scaleLinear(L.xDom, L.xRng);
  const y = d3.scaleLinear(L.yDom, L.yRng);
  const id = "clip" + (clipCount++);
  g.append("clipPath").attr("id", id).append("rect")
    .attr("x", L.xRng[0]).attr("y", L.yRng[1]).attr("width", L.xRng[1] - L.xRng[0]).attr("height", L.yRng[0] - L.yRng[1]);
  const plot = g.append("g").attr("clip-path", `url(#${id})`);
  const order = d3.range(c.values.length).reverse();
  plot.selectAll("path.m").data(order).join("path").attr("class", "m")
    .attr("d", i => d3.symbol(markerShapes[i % markerShapes.length], 150)())
    .attr("transform", i => `translate(${x(c.values[i])},${y(c.retest[i])})` + (markerFlip[i % markerFlip.length] ? " rotate(180)" : ""))
    .attr("fill", i => colorOf(c.cats[i]));
  if (L.xDom[0] < 0) {
    plot.append("line").attr("x1", x(0)).attr("x2", x(0)).attr("y1", L.yRng[0]).attr("y2", L.yRng[1])
      .attr("stroke", "#000").attr("stroke-width", 3.5).attr("stroke-dasharray", "10,7");
    plot.append("line").attr("x1", L.xRng[0]).attr("x2", L.xRng[1]).attr("y1", y(0)).attr("y2", y(0))
      .attr("stroke", "#000").attr("stroke-width", 3.5).attr("stroke-dasharray", "10,7");
  }
  const lo = Math.min(L.xDom[0], L.yDom[0]), hi = Math.max(L.xDom[1], L.yDom[1]);
  plot.append("line").attr("x1", x(lo)).attr("y1", y(lo)).attr("x2", x(hi)).attr("y2", y(hi))
    .attr("stroke", "#ff1a1a").attr("stroke-width", 3.5).attr("stroke-dasharray", "8,5");
  const ax = g.append("g").attr("transform", `translate(0,${L.yRng[0]})`)
    .call(d3.axisBottom(x).tickValues(L.ticks).tickSizeInner(-3).tickSizeOuter(0).tickPadding(9).tickFormat(fmt));
  styleAxis(ax, 15.5);
  const ay = g.append("g").attr("transform", `translate(${L.xRng[0]},0)`)
    .call(d3.axisLeft(y).tickValues(L.ticks).tickSizeInner(-3).tickSizeOuter(0).tickPadding(5).tickFormat(fmt));
  styleAxis(ay, 15.5);
  label(g, L.nse[0], L.nse[1], c.nse, { size: 17.5 });
  if (L.axisTitles) {
    label(g, 343, 157, "re-test", { rotate: true, size: 16.5 });
    label(g, 425, 244, "test", { size: 16.5 });
  }
}

function drawTime(L, c) {
  const g = svg.append("g");
  const x = d3.scaleLinear([0, 20], [533, 680]);
  const y = d3.scaleLinear(L.yDom, L.yRng);
  const line = d3.line().x((d, i) => x(timePoints[i])).y(d => y(d));
  const order = d3.range(c.time.length).reverse();
  g.selectAll("path.tc").data(order).join("path").attr("class", "tc")
    .attr("d", i => line(c.time[i])).attr("fill", "none")
    .attr("stroke", i => colorOf(c.cats[i])).attr("stroke-width", 1.1);
  g.append("path").attr("d", line(c.mean)).attr("fill", "none")
    .attr("stroke", "#000").attr("stroke-width", 4).attr("stroke-linejoin", "round");
  g.append("line").attr("x1", x(soundOnOff[0])).attr("x2", x(soundOnOff[1]))
    .attr("y1", L.barY).attr("y2", L.barY).attr("stroke", "#111").attr("stroke-width", 4.5);
  if (L.soundLabel) label(g, x(12), L.soundLabel, "sound", { size: 17 });
  const ax = g.append("g").attr("transform", `translate(0,${L.yRng[0]})`)
    .call(d3.axisBottom(x).tickValues([0, 10, 20]).tickSizeInner(-3).tickSizeOuter(0).tickPadding(10).tickFormat(fmt));
  styleAxis(ax);
  const ay = g.append("g").attr("transform", `translate(533,0)`)
    .call(d3.axisLeft(y).tickValues(L.ticks).tickSizeInner(-3).tickSizeOuter(0).tickPadding(6).tickFormat(fmt));
  styleAxis(ay);
  label(g, 607, L.yRng[0] + 36, "Time (s)");
}

function drawTune(L, values) {
  const g = svg.append("g");
  const x = d3.scaleLog([27, 7896], [773, 922]);
  const y = d3.scaleLinear([-0.75, 0.75], [L.zero + 107, L.zero - 107]);
  g.append("line").attr("x1", 773).attr("x2", 922).attr("y1", y(0)).attr("y2", y(0))
    .attr("stroke", "#ff2020").attr("stroke-width", 1.5).attr("stroke-dasharray", "12,6");
  g.append("path").attr("d", d3.line().x((d, i) => x(tuneFreqs[i])).y(d => y(Math.min(d, 0.75)))(values))
    .attr("fill", "none").attr("stroke", "#000").attr("stroke-width", 2.6).attr("stroke-linejoin", "round");
  const ax = g.append("g").attr("transform", `translate(0,${y(-0.75)})`)
    .call(d3.axisBottom(x).tickValues(freqTicks).tickSizeInner(-3).tickSizeOuter(0).tickPadding(10).tickFormat(fmt));
  styleAxis(ax);
  const ay = g.append("g").attr("transform", `translate(773,0)`)
    .call(d3.axisLeft(y).tickValues(corrTicks).tickSizeInner(-3).tickSizeOuter(0).tickPadding(5)
      .tickFormat(d => d === 0 ? "0" : d.toFixed(1)));
  styleAxis(ay);
  label(g, 728, L.zero, "Norm. Corr.", { rotate: true });
  label(g, L.xLabelX, y(-0.75) + 37, "Frequency (Hz)");
}

function drawHeat(L, map) {
  const g = svg.append("g");
  const cw = 16.4;
  const x = d3.scaleBand(tempRates, [L.x0, L.x0 + cw * tempRates.length]);
  const y = d3.scaleBand(specScales, L.y);
  specScales.forEach((s, r) => {
    tempRates.forEach((t, ci) => {
      g.append("rect").attr("x", x(t)).attr("y", y(s)).attr("width", x.bandwidth() + 0.4).attr("height", y.bandwidth() + 0.4)
        .attr("fill", corrColor(map[r][ci]));
    });
  });
  const x1 = L.x0 + cw * tempRates.length;
  g.append("rect").attr("x", L.x0).attr("y", L.y[0]).attr("width", x1 - L.x0).attr("height", L.y[1] - L.y[0])
    .attr("fill", "none").attr("stroke", "#8a8a8a").attr("stroke-width", 1.2);
  tempTicks.forEach(t => {
    const cx = x(t) + x.bandwidth() / 2;
    g.append("line").attr("x1", cx).attr("x2", cx).attr("y1", L.y[1]).attr("y2", L.y[1] - 3).attr("stroke", "#555");
    g.append("line").attr("x1", cx).attr("x2", cx).attr("y1", L.y[0]).attr("y2", L.y[0] + 3).attr("stroke", "#555");
    label(g, cx, L.y[1] + 16, fmt(t), { size: TICK });
  });
  specTicks.forEach(s => {
    const cy = y(s) + y.bandwidth() / 2;
    g.append("line").attr("x1", L.x0).attr("x2", L.x0 + 3).attr("y1", cy).attr("y2", cy).attr("stroke", "#555");
    label(g, L.x0 - 20, cy, fmt(s), { size: TICK });
  });
  label(g, 950, (L.y[0] + L.y[1]) / 2, "Spec (cyc/oct)", { rotate: true });
  label(g, 1076, L.y[1] + 37, "Temp (Hz)");
}

rows.forEach((R, k) => {
  const c = components[k];
  R.title.forEach((t, j) => label(svg, R.titleX, R.titleY[j], t, { size: 23.4, anchor: "start" }));
  drawBars(R.bars, c);
  drawInset(R.inset, c);
  drawTime(R.time, c);
  drawTune(R.tune, c.tuning);
  drawHeat(R.heat, c.map);
});

// colour bar for the modulation maps
(function () {
  const defs = svg.append("defs");
  const grad = defs.append("linearGradient").attr("id", "cbar").attr("x1", "0%").attr("x2", "100%");
  d3.range(0, 1.0001, 0.05).forEach(t => {
    grad.append("stop").attr("offset", (t * 100) + "%").attr("stop-color", corrColor(-corrLimit + 2 * corrLimit * t));
  });
  svg.append("rect").attr("x", 1039).attr("y", 85).attr("width", 67).attr("height", 13)
    .attr("fill", "url(#cbar)").attr("stroke", "#222").attr("stroke-width", 1);
  label(svg, 1071, 60, "Norm. Corr.");
  label(svg, 1035, 76, "-" + corrLimit, { size: TICK });
  label(svg, 1110, 76, String(corrLimit), { size: TICK });
})();

// category legend
(function () {
  const g = svg.append("g");
  label(g, 80, 1406, "Category labels", { anchor: "start", size: 16.3 });
  const colX = [107, 316, 522, 731, 939];
  const rowY = [1429, 1451];
  categoryKeys.forEach((k, i) => {
    const cx = colX[Math.floor(i / 2)], cy = rowY[i % 2];
    g.append("rect").attr("x", cx).attr("y", cy - 7.5).attr("width", 12).attr("height", 15).attr("fill", colorOf(k));
    label(g, cx + 22, cy, categoryNames[i], { anchor: "start", size: 16 });
  });
})();
</script>
</body>
</html>
